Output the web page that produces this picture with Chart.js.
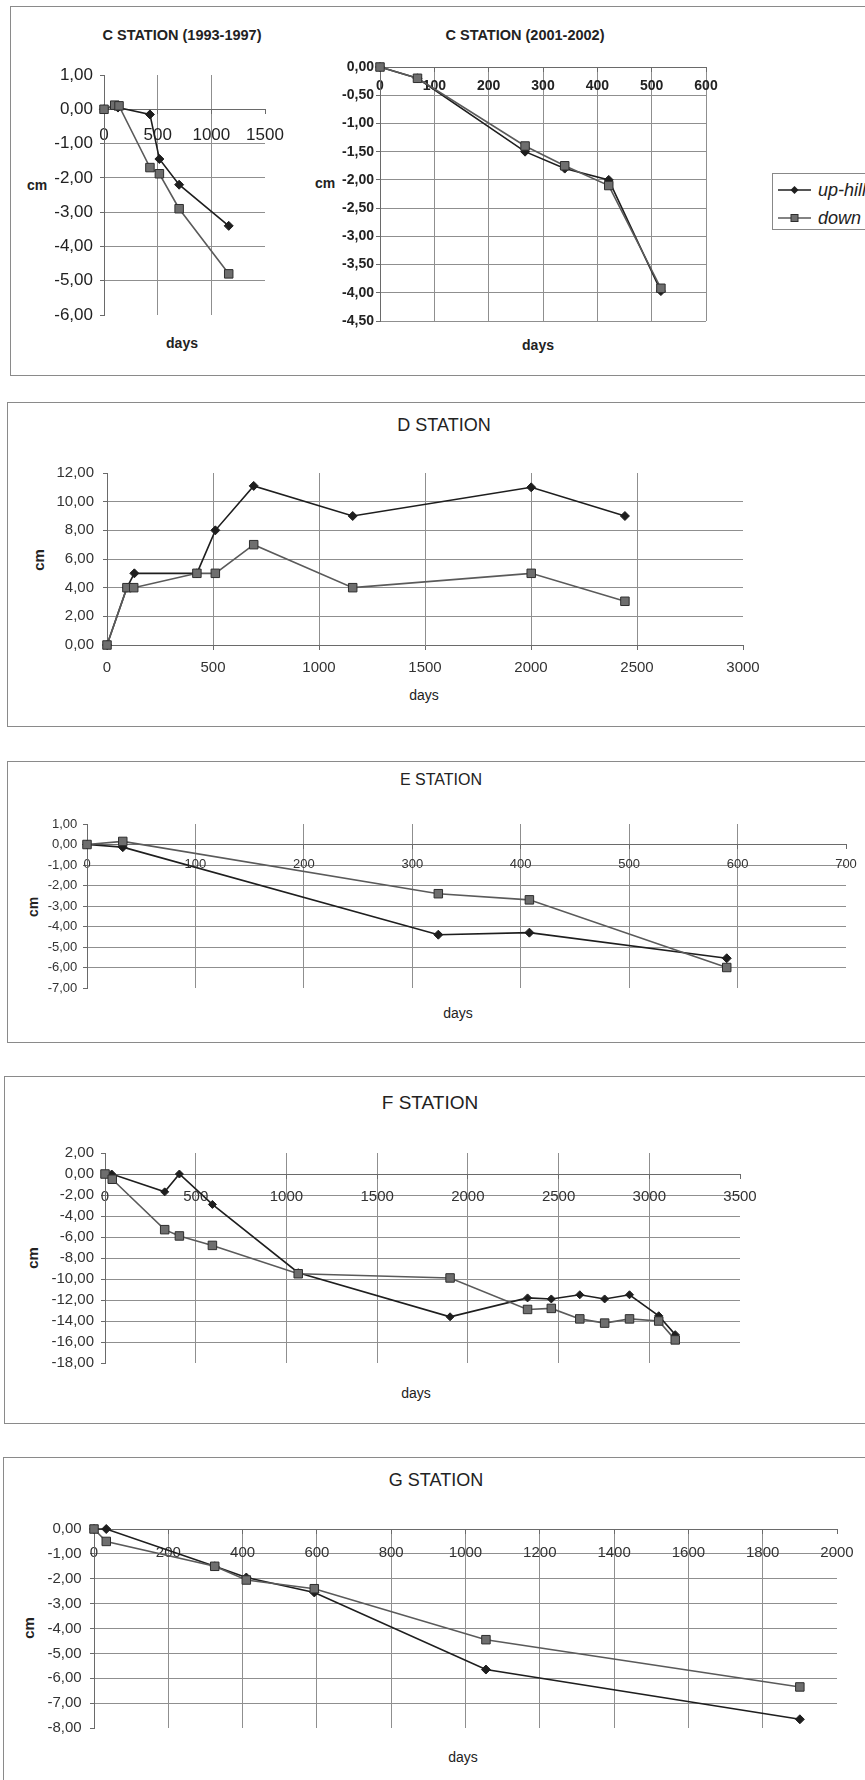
<!DOCTYPE html>
<html><head><meta charset="utf-8">
<script src="https://cdn.jsdelivr.net/npm/chart.js"></script>
<style>
html,body{margin:0;padding:0;background:#fff;}
body{width:865px;height:1780px;position:relative;overflow:hidden;font-family:"Liberation Sans",Arial,sans-serif;color:#222;}
.box{position:absolute;border:1px solid #8a8a8a;box-sizing:border-box;}
.t{position:absolute;transform:translate(-50%,-50%);white-space:nowrap;line-height:1;}
.r{transform:translate(-50%,-50%) rotate(-90deg);}
canvas{position:absolute;}
.leg{position:absolute;left:772px;top:173px;width:120px;height:57px;border:1px solid #888;box-sizing:border-box;background:#fff;}
.leg svg{position:absolute;left:0;top:0;}
.leg span{position:absolute;left:45px;font-style:italic;font-size:18px;line-height:1;transform:translateY(-50%);color:#222;}
</style></head><body>

<script>
// ---------- DATA ----------
// C station 1993-1997
const c1UpDays   = [0, 100, 130, 428, 516, 700, 1162];
const c1UpCm     = [0, 0.1, 0.05, -0.15, -1.45, -2.2, -3.4];
const c1DownDays = [0, 100, 140, 428, 516, 700, 1162];
const c1DownCm   = [0, 0.12, 0.1, -1.7, -1.88, -2.9, -4.8];
const c1XTicks   = [0, 500, 1000, 1500];
const c1YTicks   = [1, 0, -1, -2, -3, -4, -5, -6];
// C station 2001-2002
const c2UpDays   = [0, 69, 267, 340, 421, 517];
const c2UpCm     = [0, -0.2, -1.5, -1.8, -2.0, -3.97];
const c2DownDays = [0, 69, 267, 340, 421, 517];
const c2DownCm   = [0, -0.2, -1.4, -1.75, -2.1, -3.92];
const c2XTicks   = [0, 100, 200, 300, 400, 500, 600];
const c2YTicks   = [0, -0.5, -1, -1.5, -2, -2.5, -3, -3.5, -4, -4.5];
// D station
const dUpDays    = [0, 94, 129, 424, 511, 692, 1159, 2001, 2443];
const dUpCm      = [0, 4, 5, 5, 8, 11.1, 9, 11, 9];
const dDownDays  = [0, 94, 126, 424, 511, 692, 1159, 2001, 2443];
const dDownCm    = [0, 4, 4, 5, 5, 7, 4, 5, 3.05];
const dXTicks    = [0, 500, 1000, 1500, 2000, 2500, 3000];
const dYTicks    = [12, 10, 8, 6, 4, 2, 0];
// E station
const eUpDays    = [0, 33, 324, 408, 590];
const eUpCm      = [0, -0.13, -4.4, -4.3, -5.55];
const eDownDays  = [0, 33, 324, 408, 590];
const eDownCm    = [0, 0.15, -2.4, -2.7, -6.0];
const eXTicks    = [0, 100, 200, 300, 400, 500, 600, 700];
const eYTicks    = [1, 0, -1, -2, -3, -4, -5, -6, -7];
// F station
const fUpDays    = [0, 37, 329, 410, 592, 1065, 1902, 2329, 2460, 2617, 2754, 2891, 3052, 3143];
const fUpCm      = [0, 0, -1.7, 0, -2.9, -9.4, -13.6, -11.8, -11.9, -11.5, -11.9, -11.5, -13.5, -15.3];
const fDownDays  = [0, 40, 329, 410, 592, 1065, 1902, 2329, 2460, 2617, 2754, 2891, 3052, 3143];
const fDownCm    = [0, -0.5, -5.3, -5.9, -6.8, -9.5, -9.9, -12.9, -12.8, -13.8, -14.2, -13.8, -14.0, -15.8];
const fXTicks    = [0, 500, 1000, 1500, 2000, 2500, 3000, 3500];
const fYTicks    = [2, 0, -2, -4, -6, -8, -10, -12, -14, -16, -18];
// G station
const gUpDays    = [0, 33, 325, 410, 593, 1055, 1900];
const gUpCm      = [0, 0, -1.5, -1.95, -2.55, -5.65, -7.65];
const gDownDays  = [0, 33, 325, 410, 593, 1055, 1900];
const gDownCm    = [0, -0.5, -1.5, -2.05, -2.4, -4.45, -6.35];
const gXTicks    = [0, 200, 400, 600, 800, 1000, 1200, 1400, 1600, 1800, 2000];
const gYTicks    = [0, -1, -2, -3, -4, -5, -6, -7, -8];
const seriesNames = ['up-hill', 'down'];
</script>

<div class="box" style="left:10px;top:6px;width:900px;height:370px;"></div>
<div class="box" style="left:7px;top:402px;width:900px;height:325px;"></div>
<div class="box" style="left:7px;top:761px;width:900px;height:282px;"></div>
<div class="box" style="left:4px;top:1076px;width:900px;height:348px;"></div>
<div class="box" style="left:3px;top:1457px;width:900px;height:400px;"></div>

<div class="t" style="left:182px;top:35px;font-size:14.5px;font-weight:bold;">C STATION (1993-1997)</div>
<div class="t" style="left:525px;top:35px;font-size:14.5px;font-weight:bold;">C STATION (2001-2002)</div>
<div class="t" style="left:37px;top:185px;font-size:14px;font-weight:bold;">cm</div>
<div class="t" style="left:325px;top:183px;font-size:14px;font-weight:bold;">cm</div>
<div class="t" style="left:182px;top:343px;font-size:14px;font-weight:bold;">days</div>
<div class="t" style="left:538px;top:345px;font-size:14px;font-weight:bold;">days</div>

<div class="t" style="left:444px;top:425px;font-size:18px;">D STATION</div>
<div class="t" style="left:424px;top:695px;font-size:14px;">days</div>
<div class="t r" style="left:38px;top:560px;font-size:15px;font-weight:bold;">cm</div>

<div class="t" style="left:441px;top:780px;font-size:16px;">E STATION</div>
<div class="t" style="left:458px;top:1013px;font-size:14px;">days</div>
<div class="t r" style="left:33px;top:907px;font-size:14px;font-weight:bold;">cm</div>

<div class="t" style="left:430px;top:1102px;font-size:19px;">F STATION</div>
<div class="t" style="left:416px;top:1393px;font-size:14px;">days</div>
<div class="t r" style="left:32px;top:1258px;font-size:15px;font-weight:bold;">cm</div>

<div class="t" style="left:436px;top:1480px;font-size:18px;">G STATION</div>
<div class="t" style="left:463px;top:1757px;font-size:14px;">days</div>
<div class="t r" style="left:28px;top:1628px;font-size:15px;font-weight:bold;">cm</div>

<div class="leg">
  <svg width="45" height="57">
    <line x1="5" y1="16" x2="38" y2="16" stroke="#1e1e1e" stroke-width="1.4"/>
    <polygon points="21.5,12 25.5,16 21.5,20 17.5,16" fill="#1e1e1e"/>
    <line x1="5" y1="44" x2="38" y2="44" stroke="#5a5a5a" stroke-width="1.4"/>
    <rect x="18" y="40.5" width="7" height="7" fill="#6e6e6e" stroke="#2e2e2e" stroke-width="1"/>
  </svg>
  <span id="l1" style="top:16px;"></span>
  <span id="l2" style="top:44px;"></span>
</div>

<script>
document.getElementById('l1').textContent = seriesNames[0];
document.getElementById('l2').textContent = seriesNames[1];
Chart.defaults.font.family = '"Liberation Sans", Arial, sans-serif';

const GRID = '#8f8f8f', AXIS = '#6a6a6a';
function pts(xs, ys) { return xs.map((x, i) => ({x: x, y: ys[i]})); }
function fmtY(v) { return (Math.abs(v) < 1e-9 ? 0 : v).toFixed(2).replace('.', ','); }

function panel(o) {
  const yw = 80, pt = 30, pr = 45, pb = 40;
  const W = yw + (o.r - o.l) + pr, H = pt + (o.b - o.t) + pb;
  const cv = document.createElement('canvas');
  cv.width = W; cv.height = H;
  cv.style.left = (o.l - yw) + 'px'; cv.style.top = (o.t - pt) + 'px';
  cv.style.width = W + 'px'; cv.style.height = H + 'px';
  document.body.appendChild(cv);
  const xmin = o.xTicks[0], xmax = o.xTicks[o.xTicks.length - 1];
  const ymax = o.yTicks[0], ymin = o.yTicks[o.yTicks.length - 1];
  const font = {size: o.fs, weight: o.fw || 'normal'};
  new Chart(cv, {
    type: 'scatter',
    data: {
      datasets: [
        {label: seriesNames[1], data: pts(o.dx, o.dy), showLine: true, tension: 0,
         borderColor: '#5a5a5a', borderWidth: 1.6, pointStyle: 'rect', pointRadius: o.sq || 6,
         pointBackgroundColor: '#6e6e6e', pointBorderColor: '#2e2e2e', pointBorderWidth: 1, clip: false},
        {label: seriesNames[0], data: pts(o.ux, o.uy), showLine: true, tension: 0,
         borderColor: '#1e1e1e', borderWidth: 1.6, pointStyle: 'rectRot', pointRadius: o.dm || 4.5,
         pointBackgroundColor: '#1e1e1e', pointBorderColor: '#1e1e1e', pointBorderWidth: 1, clip: false}
      ]
    },
    options: {
      responsive: false, animation: false, devicePixelRatio: 1,
      layout: {padding: {left: 0, top: pt, right: pr, bottom: pb}},
      plugins: {legend: {display: false}, tooltip: {enabled: false}},
      scales: {
        x: {
          type: 'linear', min: xmin, max: xmax, position: {y: 0},
          afterBuildTicks: s => { s.ticks = o.xTicks.map(v => ({value: v})); },
          ticks: {callback: v => String(v), font: font, color: o.tc || '#222', padding: o.xp,
                  maxRotation: 0, autoSkip: false},
          grid: {color: c => (!o.boxed && c.tick && c.tick.value === xmax) ? 'rgba(0,0,0,0)' : GRID,
                 tickLength: 4, tickColor: AXIS, lineWidth: 1},
          border: {color: AXIS, width: 1}
        },
        y: {
          type: 'linear', min: ymin, max: ymax, position: 'left',
          afterBuildTicks: s => { s.ticks = o.yTicks.map(v => ({value: v})); },
          afterFit: s => { s.width = yw; },
          ticks: {callback: v => fmtY(v), font: font, color: o.tc || '#222', padding: o.yp, autoSkip: false},
          grid: {color: c => (!o.boxed && c.tick && (c.tick.value === ymax || c.tick.value === ymin)) ? 'rgba(0,0,0,0)' : GRID,
                 tickLength: 4, tickColor: AXIS, lineWidth: 1},
          border: {color: AXIS, width: 1}
        }
      }
    }
  });
}

panel({l:104, r:265, t:75, b:315, xTicks:c1XTicks, yTicks:c1YTicks, ux:c1UpDays, uy:c1UpCm, dx:c1DownDays, dy:c1DownCm,
       fs:17, xp:11.5, yp:7});
panel({l:380, r:706, t:67, b:321, xTicks:c2XTicks, yTicks:c2YTicks, ux:c2UpDays, uy:c2UpCm, dx:c2DownDays, dy:c2DownCm,
       fs:14, fw:'bold', xp:6.5, yp:2, boxed:true});
panel({l:107, r:743, t:473, b:645, xTicks:dXTicks, yTicks:dYTicks, ux:dUpDays, uy:dUpCm, dx:dDownDays, dy:dDownCm,
       fs:15, xp:10, yp:9, tc:'#333'});
panel({l:87, r:846, t:824, b:988, xTicks:eXTicks, yTicks:eYTicks, ux:eUpDays, uy:eUpCm, dx:eDownDays, dy:eDownCm,
       fs:13, xp:7.7, yp:5.7, tc:'#333'});
panel({l:105, r:740, t:1153, b:1363, xTicks:fXTicks, yTicks:fYTicks, ux:fUpDays, uy:fUpCm, dx:fDownDays, dy:fDownCm,
       fs:15, xp:9.7, yp:7, tc:'#333', dm:4});
panel({l:94, r:837, t:1529, b:1728, xTicks:gXTicks, yTicks:gYTicks, ux:gUpDays, uy:gUpCm, dx:gDownDays, dy:gDownCm,
       fs:15, xp:11, yp:8.3, tc:'#333'});
</script>
</body></html>
